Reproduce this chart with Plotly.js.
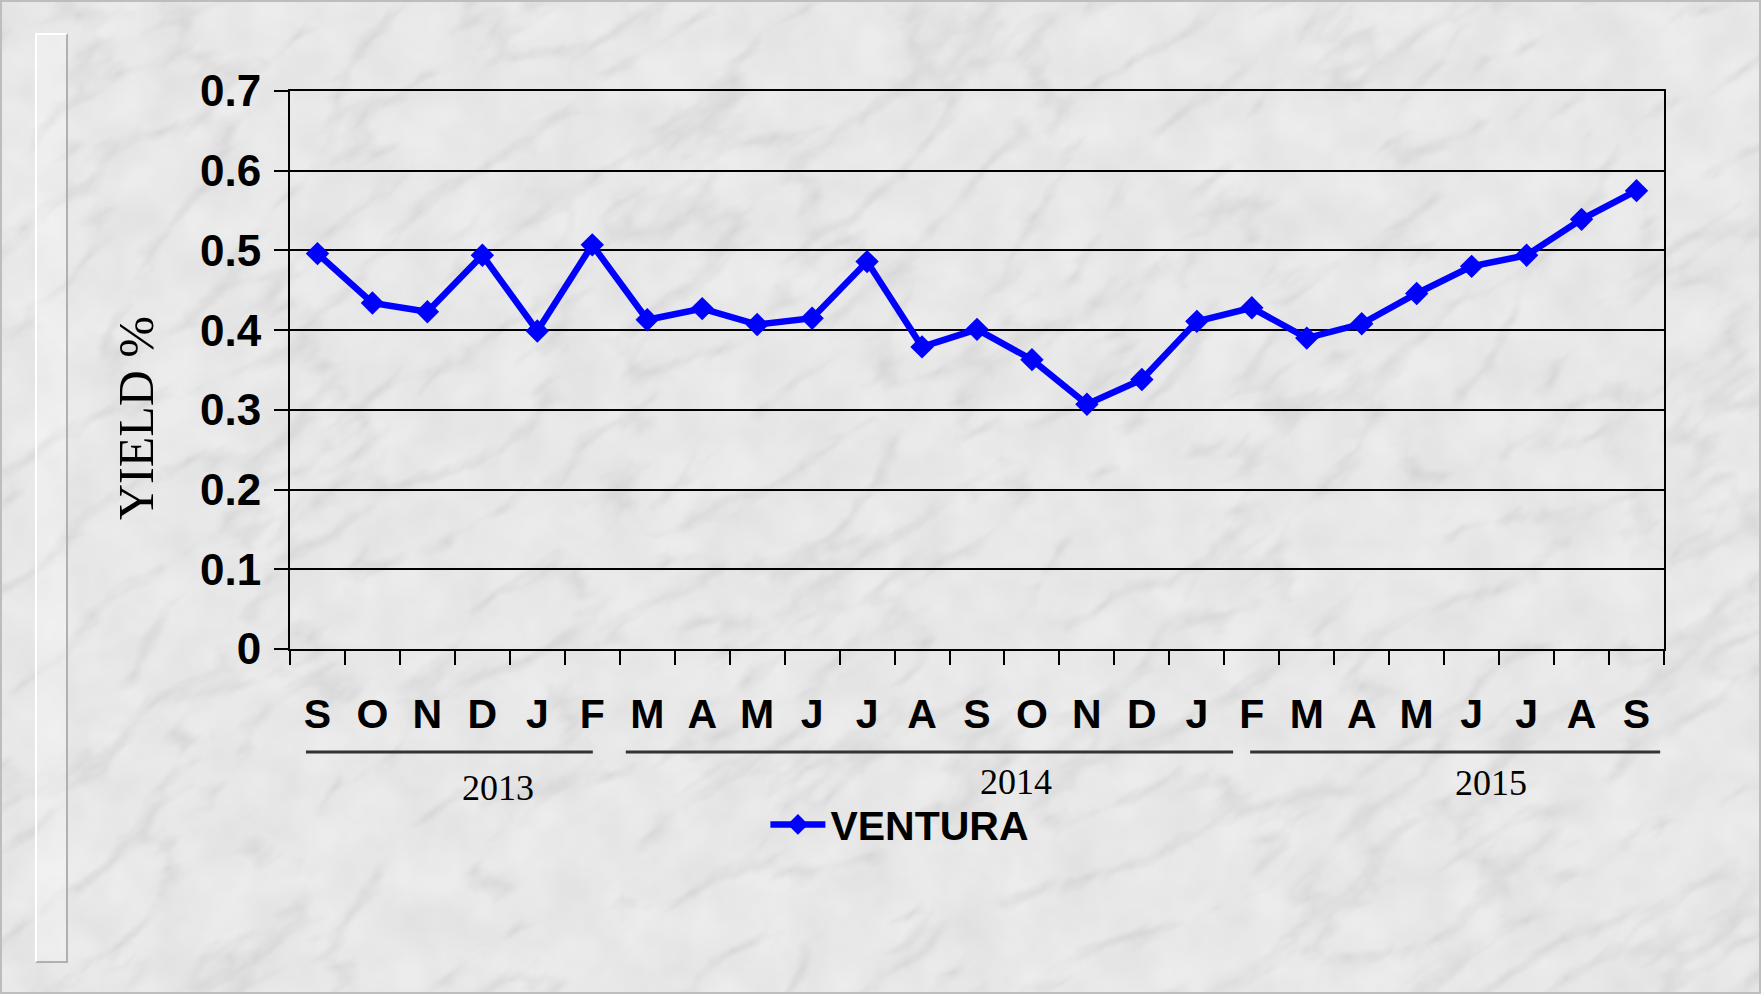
<!DOCTYPE html>
<html>
<head>
<meta charset="utf-8">
<script src="https://cdn.plot.ly/plotly-3.0.1.min.js"></script>
<style>
  html, body { margin: 0; padding: 0; width: 1761px; height: 994px; overflow: hidden; background-color: #e9e9e9; }
  #frame { position: absolute; left: 0; top: 0; width: 1757px; height: 990px; border: 2px solid #bdbdbd; }
  #strip { position: absolute; left: 35px; top: 33px; width: 29px; height: 926px;
           border-left: 2px solid #ffffff; border-top: 2px solid #ffffff;
           border-right: 2px solid #b0b0b0; border-bottom: 2px solid #b0b0b0;
           background: rgba(255,255,255,0.25); }
  #chart { position: absolute; left: 0; top: 0; width: 1761px; height: 994px; }
</style>
</head>
<body>
<div id="frame"></div>
<div id="strip"></div>
<div id="chart"></div>
<script>
// ---- data ----
const months = ['S','O','N','D','J','F','M','A','M','J','J','A','S','O','N','D','J','F','M','A','M','J','J','A','S'];
const ventura = [0.496,0.434,0.423,0.494,0.399,0.507,0.413,0.427,0.407,0.415,0.486,0.379,0.401,0.363,0.307,0.338,0.411,0.428,0.390,0.408,0.446,0.480,0.494,0.539,0.575];
const years = ['2013','2014','2015'];
const seriesName = 'VENTURA';
const yTickVals = [0,0.1,0.2,0.3,0.4,0.5,0.6,0.7];
const yTickText = ['0','0.1','0.2','0.3','0.4','0.5','0.6','0.7'];

// ---- layout positions (not data) ----
const yearLineStart = [-0.21, 5.61, 16.97];
const yearLineEnd = [5.01, 16.66, 24.43];
const yearLabelX = [3.28, 12.71, 21.35];
const yearLabelY = [-0.249, -0.238, -0.240];

// marble-ish background
const svg = "<svg xmlns='http://www.w3.org/2000/svg' width='1761' height='994'>" +
  "<filter id='n' x='0' y='0' width='100%' height='100%'>" +
  "<feTurbulence type='turbulence' baseFrequency='0.006 0.014' numOctaves='5' seed='11'/>" +
  "<feColorMatrix type='matrix' values='0 0 0 0 0.5  0 0 0 0 0.5  0 0 0 0 0.52  -1.5 0 0 0 0.38'/>" +
  "<feGaussianBlur stdDeviation='0.8'/>" +
  "</filter>" +
  "<filter id='m' x='0' y='0' width='100%' height='100%'>" +
  "<feTurbulence type='fractalNoise' baseFrequency='0.02' numOctaves='3' seed='4'/>" +
  "<feColorMatrix type='matrix' values='0 0 0 0 0.6  0 0 0 0 0.6  0 0 0 0 0.62  0.5 0 0 0 -0.12'/>" +
  "</filter>" +
  "<rect width='1761' height='994' fill='#ececec'/>" +
  "<rect width='1761' height='994' filter='url(#m)'/>" +
  "<g transform='rotate(-35 880 497)'><rect x='-600' y='-700' width='3000' height='2400' filter='url(#n)'/></g>" +
  "</svg>";
document.body.style.backgroundImage = 'url("data:image/svg+xml,' + encodeURIComponent(svg) + '")';

const xIdx = months.map((m, i) => i);
const boundaries = [];
for (let i = 0; i <= months.length; i++) boundaries.push(i - 0.5);

const trace = {
  x: xIdx,
  y: ventura,
  type: 'scatter',
  mode: 'lines+markers',
  name: seriesName,
  line: { color: '#0000ff', width: 6.5 },
  marker: { symbol: 'diamond', size: 18, color: '#0000ff' }
};

const shapes = years.map((y, k) => ({
  type: 'line', xref: 'x', yref: 'paper',
  x0: yearLineStart[k], x1: yearLineEnd[k], y0: -0.1846, y1: -0.1846,
  line: { color: '#333333', width: 3 }
}));

const annotations = years.map((y, k) => ({
  text: y, xref: 'x', yref: 'paper', x: yearLabelX[k], y: yearLabelY[k],
  showarrow: false, xanchor: 'center', yanchor: 'middle',
  font: { family: 'Liberation Serif, Times New Roman, serif', size: 36, color: '#000' }
}));
annotations.push({
  text: 'YIELD %', xref: 'paper', yref: 'paper', x: -0.112, y: 0.414,
  textangle: -90, showarrow: false, xanchor: 'center', yanchor: 'middle',
  font: { family: 'Liberation Serif, Times New Roman, serif', size: 50, color: '#000' }
});

const layout = {
  width: 1761, height: 994,
  margin: { l: 290, r: 97, t: 91, b: 345, pad: 0 },
  paper_bgcolor: 'rgba(0,0,0,0)',
  plot_bgcolor: 'rgba(0,0,0,0)',
  showlegend: true,
  legend: {
    x: 0.346, y: -0.315, xanchor: 'left', yanchor: 'middle',
    orientation: 'h', bgcolor: 'rgba(0,0,0,0)', itemwidth: 55,
    font: { family: 'Liberation Sans, Arial, sans-serif', size: 41, color: '#000', weight: 'bold' }
  },
  xaxis: {
    range: [-0.5, months.length - 0.5],
    tickmode: 'array', tickvals: xIdx, ticktext: months,
    ticks: '', ticklabelstandoff: 28,
    tickfont: { family: 'Liberation Sans, Arial, sans-serif', size: 41, color: '#000', weight: 'bold' },
    showgrid: false, zeroline: false,
    showline: true, linecolor: '#000', linewidth: 2, mirror: true,
    minor: { tickmode: 'array', tickvals: boundaries, ticks: 'outside', ticklen: 14, tickwidth: 2, tickcolor: '#000', showgrid: false },
    fixedrange: true
  },
  yaxis: {
    range: [0, 0.7],
    tickmode: 'array', tickvals: yTickVals, ticktext: yTickText,
    ticks: 'outside', ticklen: 14, tickwidth: 2, tickcolor: '#000',
    ticklabelstandoff: 4,
    tickfont: { family: 'Liberation Sans, Arial, sans-serif', size: 44, color: '#000', weight: 'bold' },
    showgrid: true, gridcolor: '#000', gridwidth: 2,
    zeroline: false,
    showline: true, linecolor: '#000', linewidth: 2, mirror: true,
    fixedrange: true
  },
  shapes: shapes,
  annotations: annotations
};

Plotly.newPlot('chart', [trace], layout, { displayModeBar: false, staticPlot: true });
</script>
</body>
</html>
